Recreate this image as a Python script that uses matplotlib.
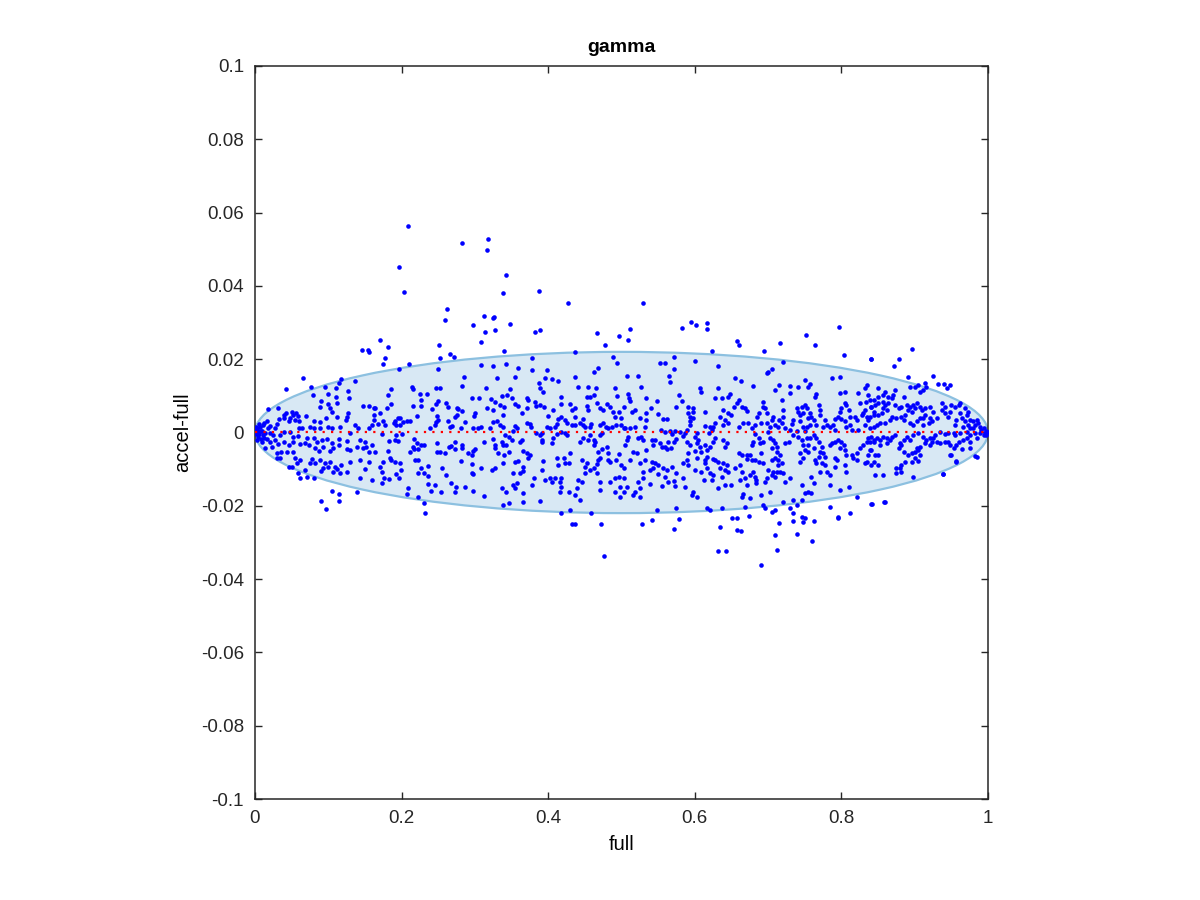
import matplotlib
matplotlib.use("Agg")
import matplotlib.pyplot as plt
from matplotlib.patches import Ellipse

plt.rcParams["font.family"] = ["Liberation Sans", "DejaVu Sans"]
plt.rcParams["axes.unicode_minus"] = False

# points, grouped by x range (full, accel-full)
pts_left = [
    (0.065, 0.0148), (0.042, 0.0118), (0.077, 0.0125), (0.096, 0.0125), (0.114, 0.0134), (0.118, 0.0145),
    (0.137, 0.0140), (0.111, 0.0122), (0.127, 0.0114), (0.128, 0.0093), (0.079, 0.0102), (0.090, 0.0086),
    (0.099, 0.0104), (0.111, 0.0096), (0.112, 0.0080), (0.099, 0.0077), (0.102, 0.0066), (0.089, 0.0069),
    (0.105, 0.0057), (0.156, 0.0073), (0.148, 0.0073), (0.162, 0.0066), (0.127, 0.0052), (0.125, 0.0043),
    (0.112, 0.0043), (0.097, 0.0040), (0.088, 0.0028), (0.080, 0.0031), (0.069, 0.0045), (0.059, 0.0044),
    (0.056, 0.0052), (0.052, 0.0048), (0.050, 0.0057), (0.042, 0.0054), (0.039, 0.0048), (0.040, 0.0040),
    (0.048, 0.0039), (0.046, 0.0030), (0.055, 0.0034), (0.060, 0.0030), (0.060, 0.0013), (0.064, 0.0011),
    (0.075, 0.0016), (0.080, 0.0013), (0.089, 0.0011), (0.099, 0.0016), (0.105, 0.0013), (0.116, 0.0016),
    (0.124, 0.0034), (0.136, 0.0020), (0.140, 0.0011), (0.155, 0.0011), (0.159, 0.0020), (0.162, 0.0048),
    (0.162, 0.0034), (0.032, 0.0068), (0.018, 0.0064), (0.033, 0.0036), (0.030, 0.0022), (0.027, 0.0013),
    (0.021, 0.0018), (0.018, 0.0011), (0.011, 0.0020), (0.007, 0.0016), (0.003, 0.0011), (0.001, 0.0007),
    (0.001, 0.0000), (0.002, 0.0000), (0.006, -0.0005), (0.008, 0.0004), (0.011, -0.0007), (0.014, -0.0002),
    (0.020, -0.0002), (0.025, -0.0007), (0.034, -0.0007), (0.039, 0.0002), (0.048, 0.0002), (0.052, -0.0011),
    (0.059, -0.0009), (0.071, -0.0014), (0.081, -0.0016), (0.084, -0.0025), (0.091, -0.0020), (0.098, -0.0018),
    (0.105, -0.0030), (0.114, -0.0018), (0.125, -0.0023), (0.130, -0.0002), (0.143, -0.0020), (0.150, -0.0027),
    (0.152, -0.0039), (0.159, -0.0034), (0.164, -0.0052), (0.155, -0.0052), (0.148, -0.0043), (0.139, -0.0039),
    (0.130, -0.0048), (0.125, -0.0045), (0.114, -0.0034), (0.107, -0.0043), (0.102, -0.0050), (0.093, -0.0039),
    (0.087, -0.0050), (0.082, -0.0043), (0.074, -0.0034), (0.068, -0.0030), (0.061, -0.0032), (0.052, -0.0025),
    (0.046, -0.0034), (0.039, -0.0025), (0.032, -0.0032), (0.027, -0.0020), (0.020, -0.0025), (0.016, -0.0019),
    (0.012, -0.0014), (0.009, -0.0025), (0.014, -0.0043), (0.023, -0.0039), (0.030, -0.0057), (0.036, -0.0052),
    (0.034, -0.0070), (0.043, -0.0052), (0.052, -0.0052), (0.055, -0.0070), (0.061, -0.0075), (0.057, -0.0084),
    (0.046, -0.0093), (0.030, -0.0070), (0.078, -0.0072), (0.075, -0.0084), (0.082, -0.0082), (0.089, -0.0075),
    (0.096, -0.0084), (0.102, -0.0080), (0.100, -0.0093), (0.106, -0.0107), (0.093, -0.0098), (0.090, -0.0105),
    (0.112, -0.0100), (0.118, -0.0089), (0.125, -0.0107), (0.130, -0.0081), (0.143, -0.0075), (0.156, -0.0080),
    (0.150, -0.0100), (0.143, -0.0125), (0.159, -0.0130), (0.109, -0.0093), (0.116, -0.0111), (0.068, -0.0102),
    (0.059, -0.0111), (0.061, -0.0125), (0.071, -0.0121), (0.080, -0.0125), (0.051, -0.0093), (0.139, -0.0161),
    (0.105, -0.0160), (0.115, -0.0168), (0.115, -0.0187), (0.090, -0.0186), (0.097, -0.0208), (0.002, 0.0015),
    (0.004, -0.0012), (0.006, 0.0022), (0.003, -0.0020), (0.009, 0.0005), (0.005, 0.0005), (0.001, -0.0005),
    (0.012, 0.0025), (0.016, 0.0030), (0.008, -0.0018), (0.146, 0.0225), (0.154, 0.0225), (0.155, 0.0219),
]

pts_midleft = [
    (0.181, 0.0234), (0.266, 0.0214), (0.272, 0.0207), (0.253, 0.0204), (0.177, 0.0202), (0.174, 0.0186),
    (0.210, 0.0187), (0.196, 0.0172), (0.250, 0.0173), (0.309, 0.0184), (0.325, 0.0182), (0.285, 0.0151),
    (0.283, 0.0127), (0.330, 0.0148), (0.252, 0.0122), (0.247, 0.0122), (0.214, 0.0125), (0.215, 0.0119),
    (0.185, 0.0118), (0.181, 0.0102), (0.185, 0.0077), (0.180, 0.0066), (0.170, 0.0052), (0.164, 0.0066),
    (0.225, 0.0104), (0.235, 0.0104), (0.227, 0.0090), (0.216, 0.0072), (0.227, 0.0072), (0.247, 0.0077),
    (0.250, 0.0086), (0.242, 0.0063), (0.261, 0.0081), (0.263, 0.0070), (0.276, 0.0068), (0.277, 0.0063),
    (0.283, 0.0059), (0.296, 0.0095), (0.305, 0.0095), (0.315, 0.0121), (0.322, 0.0091), (0.328, 0.0084),
    (0.316, 0.0066), (0.325, 0.0061), (0.300, 0.0054), (0.299, 0.0045), (0.273, 0.0043), (0.276, 0.0048),
    (0.248, 0.0045), (0.221, 0.0045), (0.195, 0.0040), (0.198, 0.0039), (0.191, 0.0031), (0.189, 0.0025),
    (0.175, 0.0030), (0.177, 0.0020), (0.168, 0.0022), (0.192, 0.0020), (0.198, 0.0020), (0.202, 0.0028),
    (0.207, 0.0031), (0.211, 0.0030), (0.173, -0.0005), (0.239, 0.0013), (0.245, 0.0020), (0.247, 0.0028),
    (0.249, 0.0034), (0.263, 0.0030), (0.266, 0.0016), (0.269, 0.0019), (0.281, 0.0011), (0.286, 0.0028),
    (0.297, 0.0013), (0.304, 0.0013), (0.309, 0.0016), (0.321, 0.0011), (0.325, 0.0028), (0.330, 0.0031),
    (0.334, 0.0020), (0.193, -0.0007), (0.200, -0.0005), (0.191, -0.0020), (0.183, -0.0023), (0.195, -0.0023),
    (0.217, -0.0018), (0.221, -0.0030), (0.227, -0.0034), (0.215, -0.0039), (0.211, -0.0054), (0.217, -0.0045),
    (0.222, -0.0045), (0.231, -0.0034), (0.248, -0.0030), (0.248, -0.0052), (0.252, -0.0054), (0.259, -0.0057),
    (0.265, -0.0039), (0.267, -0.0036), (0.273, -0.0025), (0.273, -0.0046), (0.282, -0.0034), (0.283, -0.0041),
    (0.300, -0.0045), (0.298, -0.0050), (0.296, -0.0061), (0.291, -0.0057), (0.312, -0.0027), (0.325, -0.0019),
    (0.327, -0.0034), (0.327, -0.0043), (0.332, -0.0057), (0.182, -0.0050), (0.184, -0.0069), (0.186, -0.0075),
    (0.191, -0.0080), (0.175, -0.0080), (0.170, -0.0093), (0.173, -0.0107), (0.198, -0.0084), (0.199, -0.0102),
    (0.193, -0.0114), (0.196, -0.0123), (0.183, -0.0128), (0.176, -0.0123), (0.173, -0.0139), (0.218, -0.0075),
    (0.223, -0.0075), (0.236, -0.0091), (0.227, -0.0098), (0.223, -0.0111), (0.230, -0.0111), (0.236, -0.0119),
    (0.236, -0.0141), (0.240, -0.0159), (0.255, -0.0096), (0.260, -0.0116), (0.281, -0.0077), (0.296, -0.0087),
    (0.308, -0.0096), (0.323, -0.0102), (0.327, -0.0098), (0.296, -0.0111), (0.298, -0.0114), (0.268, -0.0137),
    (0.273, -0.0161), (0.274, -0.0148), (0.286, -0.0148), (0.298, -0.0160), (0.313, -0.0172), (0.254, -0.0161),
    (0.246, -0.0143), (0.209, -0.0151), (0.207, -0.0168), (0.223, -0.0175), (0.230, -0.0193), (0.232, -0.0220),
]

pts_center = [
    (0.340, 0.0222), (0.437, 0.0219), (0.378, 0.0204), (0.342, 0.0186), (0.359, 0.0177), (0.378, 0.0171),
    (0.462, 0.0166), (0.468, 0.0177), (0.494, 0.0189), (0.488, 0.0207), (0.399, 0.0171), (0.405, 0.0146),
    (0.396, 0.0150), (0.413, 0.0141), (0.387, 0.0134), (0.389, 0.0122), (0.393, 0.0110), (0.355, 0.0151),
    (0.437, 0.0152), (0.440, 0.0125), (0.455, 0.0125), (0.465, 0.0121), (0.491, 0.0121), (0.494, 0.0100),
    (0.348, 0.0119), (0.344, 0.0102), (0.350, 0.0093), (0.337, 0.0100), (0.334, 0.0075), (0.340, 0.0070),
    (0.355, 0.0077), (0.371, 0.0093), (0.373, 0.0089), (0.382, 0.0084), (0.384, 0.0072), (0.389, 0.0075),
    (0.394, 0.0070), (0.371, 0.0068), (0.359, 0.0073), (0.339, 0.0048), (0.364, 0.0054), (0.400, 0.0045),
    (0.407, 0.0061), (0.418, 0.0098), (0.418, 0.0077), (0.430, 0.0077), (0.432, 0.0061), (0.437, 0.0066),
    (0.453, 0.0098), (0.457, 0.0096), (0.462, 0.0102), (0.453, 0.0072), (0.455, 0.0061), (0.466, 0.0080),
    (0.471, 0.0068), (0.475, 0.0061), (0.480, 0.0077), (0.484, 0.0070), (0.489, 0.0057), (0.491, 0.0043),
    (0.497, 0.0057), (0.503, 0.0070), (0.500, 0.0039), (0.414, 0.0037), (0.418, 0.0043), (0.423, 0.0034),
    (0.425, 0.0025), (0.412, 0.0022), (0.409, 0.0016), (0.403, 0.0013), (0.398, 0.0016), (0.375, 0.0022),
    (0.371, 0.0025), (0.376, 0.0016), (0.355, 0.0019), (0.357, 0.0011), (0.352, 0.0004), (0.339, 0.0016),
    (0.391, -0.0002), (0.384, -0.0002), (0.389, -0.0007), (0.391, -0.0020), (0.392, -0.0025), (0.405, -0.0030),
    (0.406, -0.0016), (0.412, -0.0005), (0.418, 0.0000), (0.423, -0.0002), (0.425, -0.0007), (0.432, 0.0020),
    (0.437, 0.0020), (0.443, 0.0025), (0.447, 0.0020), (0.450, 0.0016), (0.457, 0.0016), (0.459, 0.0023),
    (0.448, 0.0037), (0.437, 0.0043), (0.471, 0.0020), (0.475, 0.0025), (0.479, 0.0016), (0.482, 0.0011),
    (0.487, 0.0014), (0.493, 0.0020), (0.499, 0.0020), (0.503, 0.0011), (0.341, -0.0007), (0.346, -0.0011),
    (0.350, -0.0020), (0.337, -0.0025), (0.339, -0.0034), (0.343, -0.0034), (0.346, -0.0052), (0.340, -0.0061),
    (0.364, -0.0020), (0.362, -0.0025), (0.365, -0.0050), (0.371, -0.0057), (0.375, -0.0061), (0.373, -0.0070),
    (0.359, -0.0078), (0.355, -0.0080), (0.339, -0.0084), (0.366, -0.0093), (0.366, -0.0105), (0.362, -0.0110),
    (0.352, -0.0111), (0.357, -0.0139), (0.352, -0.0143), (0.355, -0.0152), (0.343, -0.0161), (0.337, -0.0152),
    (0.366, -0.0166), (0.378, -0.0143), (0.380, -0.0125), (0.391, -0.0102), (0.393, -0.0078), (0.396, -0.0130),
    (0.402, -0.0125), (0.405, -0.0134), (0.409, -0.0125), (0.418, -0.0123), (0.416, -0.0134), (0.421, -0.0070),
    (0.423, -0.0084), (0.412, -0.0070), (0.414, -0.0089), (0.428, -0.0084), (0.430, -0.0057), (0.443, -0.0025),
    (0.448, -0.0016), (0.455, -0.0020), (0.457, -0.0007), (0.462, -0.0020), (0.464, -0.0025), (0.471, -0.0007),
    (0.473, -0.0002), (0.462, -0.0034), (0.468, -0.0052), (0.473, -0.0045), (0.480, -0.0039), (0.482, -0.0057),
    (0.471, -0.0069), (0.468, -0.0075), (0.466, -0.0087), (0.482, -0.0075), (0.484, -0.0080), (0.496, -0.0060),
    (0.493, -0.0075), (0.500, -0.0089), (0.503, -0.0098), (0.453, -0.0084), (0.450, -0.0093), (0.446, -0.0075),
    (0.457, -0.0102), (0.462, -0.0098), (0.466, -0.0111), (0.450, -0.0111), (0.441, -0.0130), (0.446, -0.0134),
    (0.443, -0.0184), (0.471, -0.0134), (0.471, -0.0157), (0.484, -0.0134), (0.491, -0.0125), (0.496, -0.0121),
    (0.498, -0.0148), (0.503, -0.0161), (0.491, -0.0161), (0.498, -0.0175), (0.503, -0.0125), (0.416, -0.0161),
    (0.428, -0.0161), (0.418, -0.0148), (0.439, -0.0152), (0.346, -0.0193), (0.366, -0.0189), (0.389, -0.0187),
    (0.430, -0.0211), (0.418, -0.0220), (0.459, -0.0220), (0.437, -0.0171), (0.339, -0.0198),
]

pts_midright = [
    (0.623, 0.0221), (0.553, 0.0189), (0.560, 0.0189), (0.572, 0.0207), (0.600, 0.0195), (0.632, 0.0182),
    (0.572, 0.0173), (0.565, 0.0154), (0.566, 0.0139), (0.522, 0.0154), (0.507, 0.0155), (0.655, 0.0148),
    (0.663, 0.0141), (0.527, 0.0125), (0.509, 0.0104), (0.510, 0.0095), (0.512, 0.0086), (0.534, 0.0093),
    (0.549, 0.0086), (0.579, 0.0102), (0.583, 0.0086), (0.607, 0.0121), (0.609, 0.0111), (0.632, 0.0121),
    (0.648, 0.0104), (0.646, 0.0098), (0.628, 0.0095), (0.637, 0.0093), (0.660, 0.0089), (0.664, 0.0070),
    (0.668, 0.0068), (0.657, 0.0080), (0.671, 0.0059), (0.639, 0.0061), (0.646, 0.0052), (0.650, 0.0048),
    (0.635, 0.0043), (0.641, 0.0034), (0.518, 0.0061), (0.515, 0.0057), (0.540, 0.0068), (0.534, 0.0052),
    (0.525, 0.0040), (0.550, 0.0050), (0.557, 0.0037), (0.562, 0.0037), (0.574, 0.0070), (0.591, 0.0070),
    (0.591, 0.0052), (0.594, 0.0043), (0.598, 0.0057), (0.598, 0.0068), (0.598, 0.0039), (0.594, 0.0030),
    (0.594, 0.0020), (0.589, 0.0007), (0.580, 0.0000), (0.573, 0.0004), (0.566, 0.0004), (0.569, -0.0005),
    (0.559, 0.0000), (0.554, 0.0007), (0.534, 0.0034), (0.532, 0.0016), (0.518, 0.0016), (0.512, 0.0011),
    (0.505, 0.0011), (0.614, 0.0057), (0.628, 0.0025), (0.625, 0.0016), (0.621, 0.0016), (0.614, 0.0018),
    (0.619, -0.0002), (0.623, 0.0007), (0.603, -0.0002), (0.639, 0.0020), (0.646, 0.0025), (0.660, 0.0016),
    (0.666, 0.0027), (0.673, 0.0025), (0.654, 0.0070), (0.587, -0.0002), (0.584, -0.0009), (0.575, -0.0018),
    (0.571, -0.0025), (0.564, -0.0025), (0.559, -0.0039), (0.562, -0.0045), (0.568, -0.0043), (0.555, -0.0039),
    (0.553, -0.0030), (0.546, -0.0020), (0.541, -0.0020), (0.543, -0.0034), (0.534, -0.0048), (0.530, -0.0020),
    (0.527, -0.0011), (0.523, -0.0014), (0.509, -0.0011), (0.507, -0.0020), (0.505, -0.0034), (0.516, -0.0052),
    (0.521, -0.0057), (0.512, -0.0075), (0.525, -0.0082), (0.532, -0.0075), (0.541, -0.0080), (0.543, -0.0098),
    (0.539, -0.0102), (0.530, -0.0107), (0.546, -0.0084), (0.550, -0.0089), (0.557, -0.0098), (0.562, -0.0102),
    (0.569, -0.0093), (0.559, -0.0121), (0.564, -0.0136), (0.550, -0.0114), (0.572, -0.0132), (0.575, -0.0110),
    (0.584, -0.0084), (0.584, -0.0123), (0.591, -0.0057), (0.600, -0.0050), (0.603, -0.0070), (0.609, -0.0052),
    (0.616, -0.0048), (0.616, -0.0066), (0.614, -0.0075), (0.614, -0.0084), (0.625, -0.0072), (0.628, -0.0075),
    (0.632, -0.0080), (0.639, -0.0084), (0.644, -0.0089), (0.641, -0.0102), (0.646, -0.0107), (0.635, -0.0098),
    (0.655, -0.0096), (0.662, -0.0089), (0.664, -0.0107), (0.660, -0.0057), (0.664, -0.0061), (0.671, -0.0061),
    (0.671, -0.0073), (0.641, -0.0039), (0.644, -0.0030), (0.639, -0.0020), (0.628, -0.0016), (0.625, -0.0025),
    (0.621, -0.0039), (0.614, -0.0034), (0.607, -0.0039), (0.603, -0.0030), (0.600, -0.0011), (0.605, -0.0020),
    (0.589, -0.0025), (0.594, -0.0034), (0.589, -0.0075), (0.591, -0.0089), (0.600, -0.0102), (0.609, -0.0107),
    (0.616, -0.0098), (0.621, -0.0111), (0.625, -0.0116), (0.637, -0.0121), (0.612, -0.0130), (0.623, -0.0130),
    (0.632, -0.0152), (0.641, -0.0143), (0.650, -0.0143), (0.662, -0.0130), (0.669, -0.0123), (0.671, -0.0143),
    (0.664, -0.0175), (0.666, -0.0168), (0.598, -0.0161), (0.603, -0.0175), (0.596, -0.0171), (0.587, -0.0148),
    (0.573, -0.0146), (0.555, -0.0145), (0.539, -0.0141), (0.525, -0.0152), (0.525, -0.0175), (0.518, -0.0161),
    (0.530, -0.0125), (0.523, -0.0134), (0.507, -0.0148), (0.516, -0.0171), (0.548, -0.0211), (0.575, -0.0207),
    (0.616, -0.0207), (0.621, -0.0211), (0.637, -0.0205), (0.669, -0.0202),
]

pts_right = [
    (0.694, 0.0223), (0.804, 0.0212), (0.840, 0.0201), (0.705, 0.0172), (0.700, 0.0166), (0.698, 0.0162),
    (0.720, 0.0191), (0.787, 0.0148), (0.798, 0.0152), (0.750, 0.0143), (0.679, 0.0128), (0.715, 0.0130),
    (0.730, 0.0128), (0.741, 0.0125), (0.755, 0.0125), (0.757, 0.0132), (0.709, 0.0116), (0.730, 0.0107),
    (0.765, 0.0104), (0.764, 0.0098), (0.798, 0.0107), (0.805, 0.0111), (0.823, 0.0107), (0.832, 0.0121),
    (0.835, 0.0130), (0.837, 0.0102), (0.839, 0.0089), (0.834, 0.0084), (0.825, 0.0080), (0.693, 0.0084),
    (0.693, 0.0070), (0.696, 0.0066), (0.687, 0.0052), (0.685, 0.0043), (0.698, 0.0052), (0.707, 0.0043),
    (0.705, 0.0034), (0.698, 0.0025), (0.691, 0.0025), (0.682, 0.0020), (0.678, 0.0011), (0.719, 0.0089),
    (0.721, 0.0061), (0.721, 0.0043), (0.715, 0.0034), (0.719, 0.0025), (0.723, 0.0013), (0.714, 0.0016),
    (0.709, 0.0020), (0.703, 0.0016), (0.700, 0.0002), (0.739, 0.0066), (0.741, 0.0057), (0.746, 0.0070),
    (0.750, 0.0075), (0.753, 0.0066), (0.748, 0.0052), (0.744, 0.0048), (0.744, 0.0030), (0.755, 0.0039),
    (0.757, 0.0052), (0.759, 0.0043), (0.762, 0.0034), (0.769, 0.0075), (0.771, 0.0061), (0.771, 0.0048),
    (0.766, 0.0020), (0.757, 0.0020), (0.753, 0.0016), (0.748, 0.0016), (0.750, 0.0004), (0.739, 0.0004),
    (0.730, 0.0007), (0.732, 0.0022), (0.734, 0.0034), (0.778, 0.0034), (0.780, 0.0020), (0.775, 0.0016),
    (0.785, 0.0016), (0.789, 0.0020), (0.791, 0.0007), (0.791, 0.0037), (0.796, 0.0043), (0.798, 0.0057),
    (0.800, 0.0066), (0.805, 0.0080), (0.807, 0.0075), (0.810, 0.0061), (0.800, 0.0037), (0.805, 0.0030),
    (0.807, 0.0016), (0.812, 0.0020), (0.814, 0.0007), (0.812, 0.0043), (0.819, 0.0043), (0.821, 0.0034),
    (0.828, 0.0048), (0.830, 0.0052), (0.832, 0.0061), (0.835, 0.0043), (0.837, 0.0034), (0.841, 0.0070),
    (0.844, 0.0057), (0.823, 0.0007), (0.832, 0.0020), (0.839, 0.0011), (0.682, -0.0005), (0.687, -0.0014),
    (0.680, -0.0025), (0.678, -0.0034), (0.689, -0.0030), (0.693, -0.0025), (0.703, -0.0016), (0.707, -0.0020),
    (0.709, -0.0030), (0.712, -0.0039), (0.705, -0.0043), (0.712, -0.0052), (0.716, -0.0061), (0.709, -0.0070),
    (0.714, -0.0075), (0.705, -0.0075), (0.719, -0.0082), (0.714, -0.0089), (0.707, -0.0107), (0.712, -0.0107),
    (0.716, -0.0107), (0.721, -0.0111), (0.705, -0.0116), (0.709, -0.0121), (0.691, -0.0057), (0.693, -0.0084),
    (0.687, -0.0080), (0.682, -0.0075), (0.678, -0.0075), (0.675, -0.0061), (0.680, -0.0107), (0.675, -0.0116),
    (0.682, -0.0121), (0.684, -0.0130), (0.696, -0.0134), (0.698, -0.0125), (0.700, -0.0102), (0.723, -0.0030),
    (0.728, -0.0025), (0.734, -0.0007), (0.741, -0.0011), (0.746, -0.0020), (0.753, -0.0016), (0.757, -0.0016),
    (0.762, -0.0007), (0.766, -0.0016), (0.769, -0.0025), (0.773, -0.0039), (0.771, -0.0052), (0.775, -0.0057),
    (0.778, -0.0066), (0.769, -0.0066), (0.764, -0.0075), (0.766, -0.0084), (0.773, -0.0084), (0.778, -0.0089),
    (0.771, -0.0107), (0.780, -0.0107), (0.785, -0.0116), (0.762, -0.0043), (0.748, -0.0034), (0.750, -0.0048),
    (0.755, -0.0052), (0.744, -0.0057), (0.744, -0.0080), (0.748, -0.0070), (0.755, -0.0034), (0.785, -0.0034),
    (0.787, -0.0030), (0.791, -0.0025), (0.796, -0.0020), (0.800, -0.0025), (0.803, -0.0034), (0.798, -0.0043),
    (0.805, -0.0048), (0.807, -0.0061), (0.814, -0.0061), (0.816, -0.0070), (0.821, -0.0075), (0.821, -0.0057),
    (0.825, -0.0043), (0.830, -0.0034), (0.835, -0.0025), (0.837, -0.0016), (0.841, -0.0011), (0.844, -0.0025),
    (0.839, -0.0048), (0.837, -0.0061), (0.835, -0.0080), (0.832, -0.0084), (0.841, -0.0089), (0.791, -0.0070),
    (0.794, -0.0075), (0.791, -0.0093), (0.805, -0.0089), (0.807, -0.0107), (0.759, -0.0121), (0.762, -0.0139),
    (0.746, -0.0143), (0.730, -0.0125), (0.723, -0.0134), (0.703, -0.0161), (0.691, -0.0171), (0.684, -0.0139),
    (0.675, -0.0180), (0.750, -0.0166), (0.755, -0.0161), (0.759, -0.0166), (0.785, -0.0143), (0.798, -0.0157),
    (0.810, -0.0148), (0.821, -0.0175), (0.734, -0.0184), (0.746, -0.0184), (0.721, -0.0189), (0.693, -0.0198),
    (0.696, -0.0207), (0.705, -0.0216), (0.709, -0.0211), (0.730, -0.0207), (0.739, -0.0198), (0.746, -0.0230),
    (0.750, -0.0234), (0.785, -0.0202), (0.796, -0.0230),
]

pts_end = [
    (0.897, 0.0227), (0.841, 0.0201), (0.879, 0.0201), (0.872, 0.0182), (0.891, 0.0151), (0.925, 0.0155),
    (0.914, 0.0134), (0.916, 0.0125), (0.932, 0.0132), (0.940, 0.0132), (0.948, 0.0130), (0.944, 0.0122),
    (0.894, 0.0125), (0.900, 0.0125), (0.905, 0.0130), (0.912, 0.0116), (0.907, 0.0111), (0.873, 0.0116),
    (0.850, 0.0122), (0.859, 0.0111), (0.850, 0.0098), (0.857, 0.0102), (0.864, 0.0098), (0.869, 0.0093),
    (0.871, 0.0102), (0.885, 0.0096), (0.844, 0.0089), (0.841, 0.0070), (0.846, 0.0075), (0.850, 0.0080),
    (0.857, 0.0084), (0.859, 0.0075), (0.864, 0.0080), (0.862, 0.0061), (0.857, 0.0066), (0.855, 0.0052),
    (0.850, 0.0048), (0.844, 0.0048), (0.839, 0.0043), (0.873, 0.0075), (0.878, 0.0066), (0.882, 0.0070),
    (0.889, 0.0075), (0.894, 0.0070), (0.898, 0.0075), (0.903, 0.0080), (0.900, 0.0066), (0.896, 0.0057),
    (0.891, 0.0061), (0.887, 0.0048), (0.882, 0.0043), (0.885, 0.0034), (0.875, 0.0039), (0.869, 0.0043),
    (0.866, 0.0034), (0.859, 0.0025), (0.853, 0.0025), (0.848, 0.0020), (0.844, 0.0016), (0.907, 0.0070),
    (0.910, 0.0061), (0.914, 0.0066), (0.921, 0.0070), (0.925, 0.0057), (0.914, 0.0048), (0.912, 0.0040),
    (0.907, 0.0039), (0.921, 0.0040), (0.923, 0.0030), (0.919, 0.0025), (0.912, 0.0020), (0.903, 0.0030),
    (0.898, 0.0020), (0.894, 0.0025), (0.930, 0.0039), (0.937, 0.0080), (0.941, 0.0070), (0.937, 0.0061),
    (0.941, 0.0052), (0.948, 0.0057), (0.946, 0.0043), (0.950, 0.0075), (0.955, 0.0070), (0.960, 0.0075),
    (0.962, 0.0080), (0.969, 0.0066), (0.973, 0.0057), (0.971, 0.0048), (0.962, 0.0052), (0.957, 0.0034),
    (0.955, 0.0020), (0.964, 0.0039), (0.969, 0.0030), (0.973, 0.0020), (0.966, 0.0016), (0.975, 0.0034),
    (0.980, 0.0030), (0.982, 0.0020), (0.975, 0.0011), (0.980, 0.0011), (0.985, 0.0034), (0.987, 0.0025),
    (0.989, 0.0016), (0.991, 0.0007), (0.994, 0.0011), (0.996, -0.0002), (0.998, -0.0007), (0.989, -0.0002),
    (0.982, -0.0002), (0.975, -0.0007), (0.971, 0.0000), (0.962, -0.0002), (0.955, -0.0007), (0.953, -0.0002),
    (0.946, -0.0002), (0.941, -0.0005), (0.935, 0.0000), (0.928, -0.0007), (0.925, -0.0016), (0.930, -0.0025),
    (0.935, -0.0030), (0.941, -0.0025), (0.946, -0.0025), (0.948, -0.0034), (0.953, -0.0043), (0.957, -0.0034),
    (0.960, -0.0025), (0.966, -0.0020), (0.971, -0.0016), (0.975, -0.0025), (0.985, -0.0016), (0.975, -0.0043),
    (0.964, -0.0045), (0.948, -0.0061), (0.950, -0.0061), (0.957, -0.0080), (0.985, -0.0066), (0.921, -0.0016),
    (0.916, -0.0020), (0.914, -0.0030), (0.921, -0.0034), (0.923, -0.0025), (0.912, -0.0011), (0.905, -0.0002),
    (0.898, -0.0007), (0.894, -0.0020), (0.889, -0.0011), (0.885, -0.0020), (0.882, -0.0034), (0.880, -0.0030),
    (0.878, -0.0043), (0.885, -0.0052), (0.891, -0.0061), (0.896, -0.0057), (0.900, -0.0052), (0.903, -0.0043),
    (0.907, -0.0039), (0.905, -0.0048), (0.907, -0.0061), (0.900, -0.0070), (0.896, -0.0080), (0.905, -0.0078),
    (0.887, -0.0080), (0.882, -0.0089), (0.880, -0.0098), (0.875, -0.0098), (0.875, -0.0111), (0.882, -0.0107),
    (0.873, -0.0007), (0.869, -0.0011), (0.866, -0.0020), (0.862, -0.0016), (0.857, -0.0011), (0.853, -0.0020),
    (0.848, -0.0016), (0.844, -0.0020), (0.839, -0.0025), (0.853, -0.0034), (0.850, -0.0061), (0.846, -0.0061),
    (0.841, -0.0048), (0.844, -0.0080), (0.850, -0.0089), (0.846, -0.0116), (0.857, -0.0116), (0.862, -0.0030),
    (0.898, -0.0122), (0.938, -0.0114), (0.841, -0.0196), (0.858, -0.0189), (1.000, 0.0000), (0.997, 0.0005),
    (0.995, -0.0008), (0.939, -0.0112), (0.957, -0.0078), (0.983, -0.0065),
]

pts_outliers = [
    (0.209, 0.0564), (0.196, 0.0452), (0.203, 0.0382), (0.282, 0.0517), (0.318, 0.0528), (0.316, 0.0499),
    (0.262, 0.0338), (0.259, 0.0307), (0.298, 0.0293), (0.312, 0.0317), (0.325, 0.0313), (0.314, 0.0275),
    (0.308, 0.0247), (0.251, 0.0240), (0.170, 0.0251), (0.342, 0.0429), (0.339, 0.0381), (0.388, 0.0385),
    (0.427, 0.0352), (0.530, 0.0352), (0.326, 0.0314), (0.328, 0.0281), (0.348, 0.0296), (0.382, 0.0274),
    (0.389, 0.0279), (0.466, 0.0271), (0.496, 0.0262), (0.512, 0.0282), (0.509, 0.0252), (0.477, 0.0240),
    (0.583, 0.0286), (0.595, 0.0302), (0.601, 0.0294), (0.616, 0.0298), (0.617, 0.0282), (0.658, 0.0250),
    (0.660, 0.0240), (0.797, 0.0288), (0.752, 0.0265), (0.764, 0.0240), (0.716, 0.0245),
    (0.476, -0.0338), (0.433, -0.0249), (0.436, -0.0250), (0.472, -0.0250), (0.528, -0.0250), (0.542, -0.0238),
    (0.571, -0.0263), (0.578, -0.0236), (0.635, -0.0259), (0.632, -0.0323), (0.642, -0.0323), (0.651, -0.0232),
    (0.657, -0.0232), (0.658, -0.0266), (0.663, -0.0268), (0.690, -0.0361), (0.712, -0.0321), (0.710, -0.0281),
    (0.760, -0.0296), (0.740, -0.0277), (0.715, -0.0247), (0.734, -0.0241), (0.763, -0.0241), (0.795, -0.0233),
    (0.812, -0.0220), (0.842, -0.0196), (0.859, -0.0189), (0.748, -0.0244), (0.734, -0.0221), (0.674, -0.0227),
]

# 2-sigma style ellipse around the cloud
ell_center = (0.5, 0.0)
ell_half_width = 0.5
ell_half_height = 0.022

x_ticks = [0, 0.2, 0.4, 0.6, 0.8, 1]
x_tick_labels = ["0", "0.2", "0.4", "0.6", "0.8", "1"]
y_ticks = [-0.1, -0.08, -0.06, -0.04, -0.02, 0, 0.02, 0.04, 0.06, 0.08, 0.1]
y_tick_labels = ["-0.1", "-0.08", "-0.06", "-0.04", "-0.02", "0", "0.02", "0.04", "0.06", "0.08", "0.1"]

all_pts = pts_left + pts_midleft + pts_center + pts_midright + pts_right + pts_end + pts_outliers
xs = [p[0] for p in all_pts]
ys = [p[1] for p in all_pts]

fig = plt.figure(figsize=(12, 9), dpi=100)
ax = fig.add_axes([0.2125, 0.1122, 0.6108, 0.8145])

ax.add_patch(Ellipse(ell_center, 2 * ell_half_width, 2 * ell_half_height,
                     facecolor="#d8e8f4", edgecolor="#8cc0e0", linewidth=1.6, zorder=1))
ax.plot(xs, ys, "o", color="blue", markersize=3.3, markeredgewidth=0, zorder=3)
# zero line (dotted red) on top
ax.plot([0, 1], [0, 0], color="red", linewidth=1.6, linestyle=(0, (1, 2.8)), zorder=4)

ax.set_xlim(0, 1)
ax.set_ylim(-0.1, 0.1)
ax.set_xticks(x_ticks)
ax.set_xticklabels(x_tick_labels)
ax.set_yticks(y_ticks)
ax.set_yticklabels(y_tick_labels)
ax.tick_params(direction="in", top=True, right=True, length=5, width=1,
               color="#262626", labelcolor="#262626", labelsize=13.5, pad=8)
for s in ax.spines.values():
    s.set_linewidth(1.1)
    s.set_color("#262626")

ax.set_title("gamma", fontweight="bold", fontsize=14, pad=10)
ax.set_xlabel("full", fontsize=14.5, labelpad=6)
ax.set_ylabel("accel-full", fontsize=14.5, labelpad=6)

fig.savefig("out.png", dpi=100)
